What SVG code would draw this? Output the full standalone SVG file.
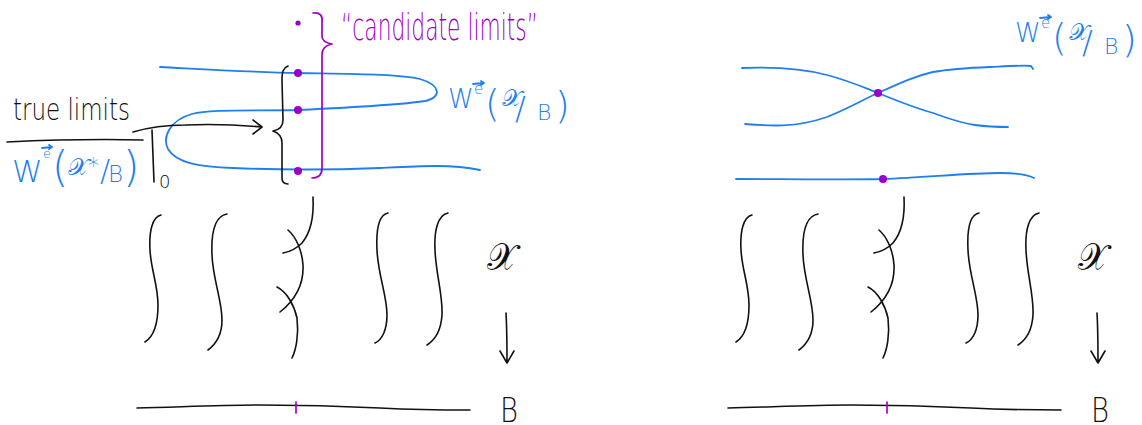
<svg xmlns="http://www.w3.org/2000/svg" xmlns:xlink="http://www.w3.org/1999/xlink" width="1142" height="425" viewBox="0 0 1142 425">
<style>
.ink{fill:none;stroke:#111;stroke-width:1.6;stroke-linecap:round;stroke-linejoin:round}
.blue{fill:none;stroke:#1f7ef0;stroke-width:1.8;stroke-linecap:round;stroke-linejoin:round}
.pur{fill:none;stroke:#a100c9;stroke-width:1.7;stroke-linecap:round;stroke-linejoin:round}
.dot{fill:#9a00c8}
.t{font-family:"DejaVu Sans","Noto Sans",sans-serif;font-weight:200}
.tb{fill:#1f7ef0}
.tk{fill:#111}
.tp{fill:#a100c9}
.m{font-family:"DejaVu Sans","Noto Sans","DejaVu Serif",serif;font-weight:200}
</style>
<rect width="1142" height="425" fill="#fff"/>
<defs>
  <g id="label-W">
    <text class="t tb"><tspan x="448" y="108" font-size="26">W</tspan><tspan x="474" y="94" font-size="15">e</tspan><tspan x="485" y="116" font-size="38">(</tspan><tspan class="m" x="502" y="106" font-size="23">𝒳</tspan><tspan x="515" y="119" font-size="32">/</tspan><tspan x="537" y="120" font-size="22">B</tspan><tspan x="555" y="118" font-size="38">)</tspan></text>
    <path class="blue" d="M473,84 L484,83 M481,81 L484,83 L481,85" stroke-width="1.2"/>
  </g>
  <g id="fibration">
    <g id="sheets">
      <path class="ink" d="M161,215 C152,217 149,232 150,250 C151,270 158,285 158,305 C158,325 153,337 145,342"/>
      <path class="ink" d="M227,214 C215,216 211,232 212,255 C213,280 222,300 222,320 C222,335 216,344 208,350"/>
      <path class="ink" d="M313,197 C314,215 311,232 302,243 C295,250 289,252 283,253"/>
      <path class="ink" d="M288,230 C296,237 302,250 303,265 C304,285 295,300 280,312"/>
      <path class="ink" d="M277,287 C287,292 294,305 297,318 C299,335 296,350 292,358"/>
      <path class="ink" d="M388,213 C378,215 376,230 377,250 C378,275 387,295 387,315 C387,330 382,340 375,343"/>
      <path class="ink" d="M448,213 C438,215 434,230 435,250 C436,275 443,295 442,315 C441,330 435,340 427,345"/>
    </g>
    <text class="m tk" x="487" y="270" font-size="38" textLength="30" lengthAdjust="spacingAndGlyphs">𝒳</text>
    <path class="ink" d="M506,313 C507,330 507,348 507,363 M500,351 L507,363 L514,351"/>
    <path class="ink" d="M137,408 C180,407 220,405 260,405 C300,405 340,406 380,408 C420,410 450,410 470,410"/>
    <path class="pur" d="M296,402 L296,413" stroke-width="2.4"/>
    <text class="t tk" x="500" y="422" font-size="34" textLength="18" lengthAdjust="spacingAndGlyphs">B</text>
  </g>
</defs>

<g id="left-top">
  <g id="connectors-left">
    <path class="blue" d="M160,67 C200,69 250,72 298,73 C350,74 400,74 420,79 C440,85 443,97 425,101 C400,105 340,108 298,110 C250,111 210,109 192,114 C170,120 162,137 168,149 C176,163 200,167 233,168 C280,170 330,170 380,168 C420,166 450,164 480,170"/>
    <path class="ink" d="M133,132 C150,127 165,125 185,125 C210,124 240,125 262,127 M253,120 L262,127 L253,134"/>
    <path class="ink" d="M288,66 C283,68 282,72 282,80 L283,120 C283,126 279,130 273,131 C279,133 282,137 282,143 L282,178 C282,182 284,184 288,184"/>
    <path class="pur" d="M313,13 C320,12 323,16 322,22 L322,36 C322,40 326,43 332,44 C326,45 322,48 322,55 L322,168 C322,174 319,178 312,178"/>
    <path class="ink" d="M7,142 C50,140 100,139 143,140"/>
    <path class="ink" d="M152,130 L154,182"/>
  </g>
  <circle class="dot" cx="298" cy="23" r="2.6"/>
  <circle class="dot" cx="298" cy="73" r="4"/>
  <circle class="dot" cx="298" cy="110" r="4"/>
  <circle class="dot" cx="298" cy="171" r="4"/>
  <text class="t tp" x="341" y="40" font-size="38" textLength="197" lengthAdjust="spacingAndGlyphs">“candidate limits”</text>
  <text class="t tk" x="13" y="120" font-size="30" textLength="117" lengthAdjust="spacingAndGlyphs">true limits</text>
  <use xlink:href="#label-W" href="#label-W"/>
  <g id="label-Wstar">
    <text class="t tb"><tspan x="12" y="182" font-size="31">W</tspan><tspan x="43" y="158" font-size="13">e</tspan><tspan x="52" y="182" font-size="42">(</tspan><tspan class="m" x="68" y="175" font-size="24">𝒳</tspan><tspan x="88" y="173" font-size="22">*</tspan><tspan x="100" y="181" font-size="30">/</tspan><tspan x="108" y="182" font-size="23">B</tspan><tspan x="123" y="182" font-size="42">)</tspan></text>
    <path class="blue" d="M42,148 L52,147 M49,145 L52,147 L49,149" stroke-width="1.2"/>
  </g>
  <text class="t tk" x="159" y="188" font-size="18">0</text>
</g>

<g id="right-top">
  <g id="connectors-right">
    <path class="blue" d="M742,68 C770,67 800,68 827,75 C850,81 865,88 878,93 C900,102 915,108 933,113 C950,119 960,123 975,125 C990,127 1000,127 1008,127"/>
    <path class="blue" d="M745,124 C770,126 795,128 827,117 C850,108 862,100 878,93 C900,83 915,76 933,72 C950,69 965,68 990,67 C1010,66 1025,65 1031,66 L1033,69"/>
    <path class="blue" d="M736,179 C780,179 830,180 883,179 C930,177 970,173 1000,173 C1020,173 1030,176 1034,178"/>
  </g>
  <circle class="dot" cx="878" cy="93" r="4"/>
  <circle class="dot" cx="883" cy="179" r="4"/>
  <use xlink:href="#label-W" href="#label-W" transform="translate(567,-66)"/>
</g>

<g id="bottom-left">
  <use xlink:href="#fibration" href="#fibration"/>
</g>
<g id="bottom-right">
  <use xlink:href="#fibration" href="#fibration" transform="translate(591,0)"/>
</g>
</svg>
